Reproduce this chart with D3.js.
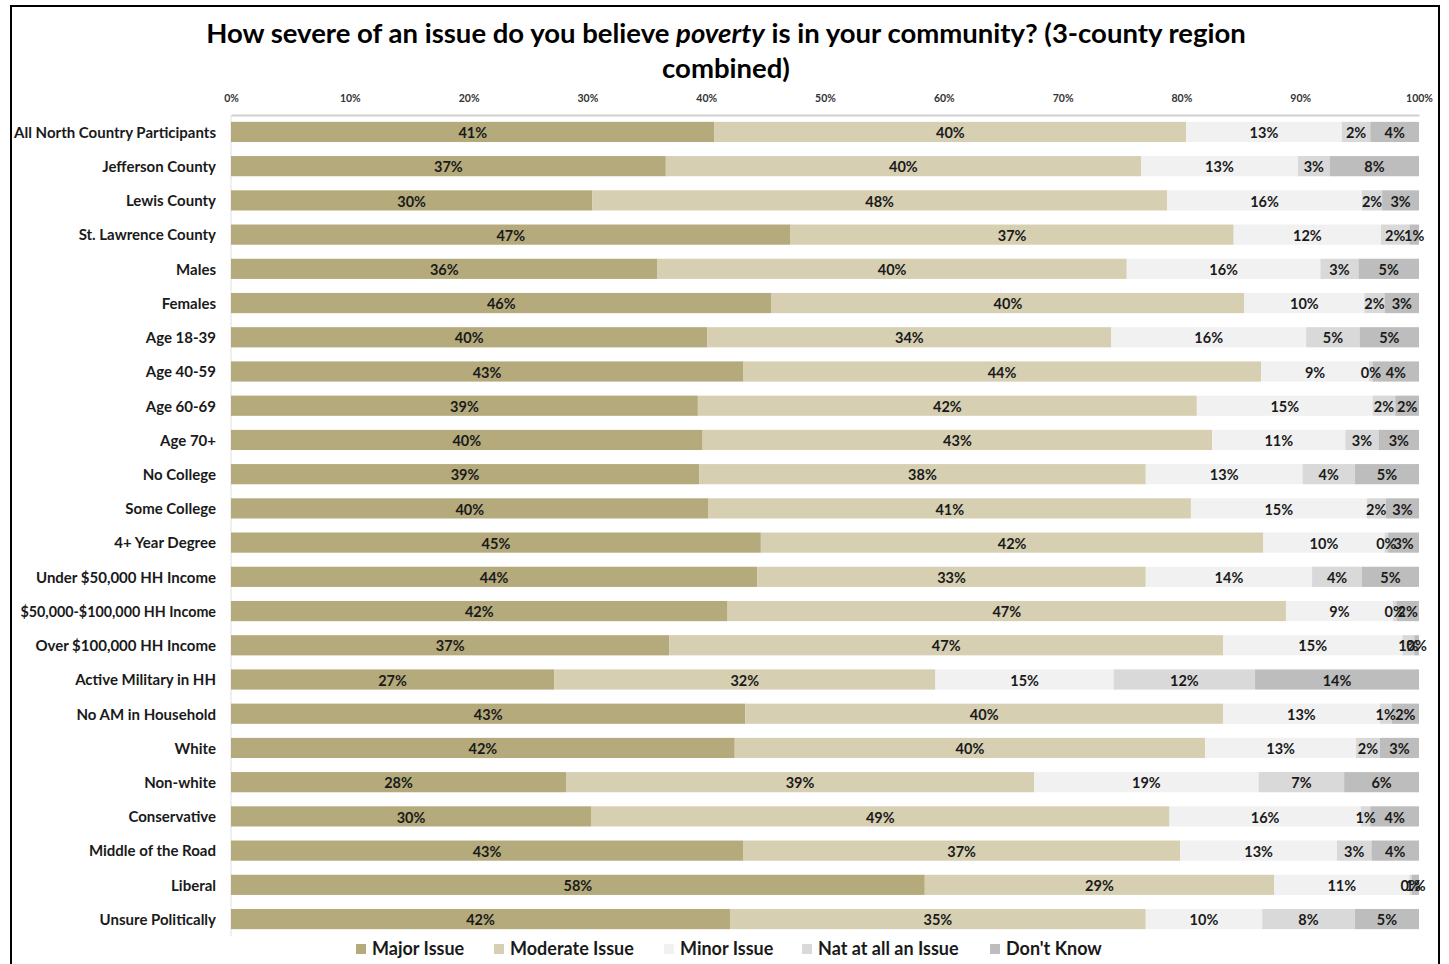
<!DOCTYPE html>
<html><head><meta charset="utf-8">
<script src="https://cdn.jsdelivr.net/npm/d3@7"></script>
<style>
html,body{margin:0;padding:0;background:#fff;}
svg{display:block;font-family:Lato,"Open Sans",sans-serif;}
</style></head>
<body><svg id="chart" width="1449" height="964"></svg>
<script>
const categories = ["All North Country Participants","Jefferson County","Lewis County","St. Lawrence County","Males","Females","Age 18-39","Age 40-59","Age 60-69","Age 70+","No College","Some College","4+ Year Degree","Under $50,000 HH Income","$50,000-$100,000 HH Income","Over $100,000 HH Income","Active Military in HH","No AM in Household","White","Non-white","Conservative","Middle of the Road","Liberal","Unsure Politically"];
const seriesNames = ["Major Issue","Moderate Issue","Minor Issue","Nat at all an Issue","Don't Know"];
const majorIssue    = [40.7,36.6,30.4,47.1,35.9,45.5,40.1,43.1,39.3,39.7,39.4,40.2,44.6,44.3,41.8,36.9,27.2,43.3,42.4,28.2,30.3,43.1,58.4,42.0];
const moderateIssue = [39.7,40.0,48.4,37.3,39.5,39.8,34.0,43.6,42.0,42.9,37.6,40.6,42.3,32.7,47.0,46.6,32.1,40.2,39.6,39.4,48.7,36.8,29.4,35.0];
const minorIssue    = [13.1,13.2,16.4,12.4,16.3,10.1,16.4, 9.1,14.8,11.2,13.2,14.8,10.2,14.0, 9.0,15.1,15.0,13.2,12.7,18.9,16.1,13.2,11.4, 9.8];
const notAtAll      = [ 2.4, 2.7, 1.7, 2.4, 3.2, 1.7, 4.5, 0.3, 1.9, 2.8, 4.4, 1.6, 0.3, 4.2, 0.3, 1.0,11.9, 1.0, 2.0, 7.2, 0.8, 2.9, 0.2, 7.8];
const dontKnow      = [ 4.1, 7.5, 3.1, 0.8, 5.1, 2.9, 5.0, 3.9, 2.0, 3.4, 5.4, 2.8, 2.6, 4.8, 1.9, 0.4,13.8, 2.3, 3.3, 6.3, 4.1, 4.0, 0.6, 5.4];
const tickValues = [0,10,20,30,40,50,60,70,80,90,100];
const colors = ["#b5aa7b","#d6cfb2","#f1f1f1","#d9d9d9","#bdbdbd"];

const series = [majorIssue, moderateIssue, minorIssue, notAtAll, dontKnow];
const svg = d3.select("#chart");
const plotLeft = 231, plotRight = 1419, plotTop = 115, plotBottom = 936;

// frame
svg.append("rect").attr("x",11).attr("y",6).attr("width",1428).attr("height",970)
  .attr("fill","none").attr("stroke","#000").attr("stroke-width",2);

// title
const title = svg.append("text").attr("x",726).attr("y",43).attr("text-anchor","middle")
  .attr("font-size",27.5).attr("font-weight","bold").attr("fill","#000");
title.append("tspan").text("How severe of an issue do you believe ");
title.append("tspan").attr("font-style","italic").text("poverty");
title.append("tspan").text(" is in your community? (3-county region");
svg.append("text").attr("x",726).attr("y",78).attr("text-anchor","middle")
  .attr("font-size",27.5).attr("font-weight","bold").attr("fill","#000").text("combined)");

const x = d3.scaleLinear().domain([0,100]).range([plotLeft,plotRight]);
const y = d3.scaleBand().domain(categories).range([plotTop,plotBottom]).paddingInner(0.41).paddingOuter(0.2);

// x axis on top
const xAxis = svg.append("g").attr("transform",`translate(0,${plotTop})`)
  .call(d3.axisTop(x).tickValues(tickValues).tickFormat(d=>d+"%").tickSize(0).tickPadding(13));
xAxis.select(".domain").attr("stroke","#d0d0d0").attr("stroke-width",2);
xAxis.selectAll("text").attr("font-size",10.5).attr("font-weight","bold").attr("fill","#333")
  .attr("font-family","Lato,'Open Sans',sans-serif");

// y axis line
svg.append("line").attr("x1",plotLeft).attr("x2",plotLeft).attr("y1",plotTop).attr("y2",plotBottom)
  .attr("stroke","#e0e0e0").attr("stroke-width",1);

// category labels
const yAxis = svg.append("g").attr("transform",`translate(${plotLeft},1)`)
  .call(d3.axisLeft(y).tickSize(0).tickPadding(15));
yAxis.select(".domain").remove();
yAxis.selectAll("text").attr("font-size",d=>d.indexOf("$50,000-")===0?14.3:15).attr("font-weight","bold").attr("fill","#1a1a1a")
  .attr("font-family","Lato,'Open Sans',sans-serif");

// stacked data
const rows = categories.map((c,i)=>{ const o={cat:c}; seriesNames.forEach((s,k)=>o[s]=series[k][i]); return o; });
const stacked = d3.stack().keys(seriesNames)(rows);

const g = svg.append("g");
stacked.forEach((layer,k)=>{
  g.append("g").selectAll("rect").data(layer).enter().append("rect")
    .attr("x",d=>x(d[0])).attr("width",d=>x(d[1])-x(d[0]))
    .attr("y",d=>y(d.data.cat)).attr("height",y.bandwidth())
    .attr("fill",colors[k]);
});
stacked.forEach((layer,k)=>{
  g.append("g").selectAll("text").data(layer).enter().append("text")
    .attr("x",d=>(x(d[0])+x(d[1]))/2).attr("y",d=>y(d.data.cat)+y.bandwidth()/2+1)
    .attr("dy","0.36em").attr("text-anchor","middle")
    .attr("font-size",14.5).attr("font-weight","bold").attr("fill","#1a1a1a")
    .text(d=>Math.round(d[1]-d[0])+"%");
});

// legend
const legend = svg.append("g").attr("transform","translate(0,949)");
const legX = [356,494,664,802,990];
seriesNames.forEach((s,k)=>{
  legend.append("rect").attr("x",legX[k]).attr("y",-5).attr("width",10).attr("height",10).attr("fill",colors[k]);
  legend.append("text").attr("x",legX[k]+16).attr("y",0).attr("dy","0.35em")
    .attr("font-size",18).attr("font-weight","bold").attr("fill","#1a1a1a").text(s);
});
</script></body></html>
